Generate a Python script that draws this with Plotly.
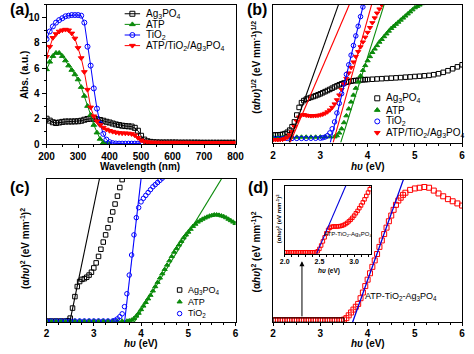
import plotly.graph_objects as go

W, H = 474, 354
FONT = "Liberation Sans, Arial, sans-serif"
BLACK, GREEN, BLUE, RED = "#000000", "#0a8a0a", "#0000ff", "#ff0000"


def px(x):
    return x / W


def py(y):
    return 1 - y / H


# ---------------- panel (a): absorbance ----------------
wl_a = [200, 210, 220, 230, 240, 250, 260, 270, 280, 290, 300, 310, 320, 330, 340, 350,
        360, 370, 380, 390, 400, 410, 420, 430, 440, 450, 460, 470, 480, 490, 500, 510,
        520, 530, 540, 550, 560, 570, 580, 590, 600, 610, 620, 630, 640, 650, 660, 670,
        680, 690, 700, 710, 720, 730, 740, 750, 760, 770, 780, 790, 800]
abs_ag = [2.0, 1.85, 1.72, 1.66, 1.7, 1.75, 1.78, 1.78, 1.78, 1.79, 1.8, 1.84, 1.92, 1.98, 2.0, 2.0,
          1.96, 1.9, 1.84, 1.76, 1.7, 1.62, 1.55, 1.5, 1.45, 1.42, 1.4, 1.38, 1.28, 1.05, 0.65, 0.35,
          0.22, 0.17, 0.14, 0.13, 0.12, 0.12, 0.12, 0.12, 0.12, 0.12, 0.11, 0.11, 0.11, 0.11, 0.11, 0.11,
          0.11, 0.1, 0.1, 0.1, 0.1, 0.1, 0.1, 0.1, 0.1, 0.1, 0.1, 0.1, 0.1]
abs_comp = [6.9, 7.7, 8.4, 8.7, 8.9, 9.0, 9.05, 9.0, 8.75, 8.35, 7.6, 6.8, 5.7, 4.3, 2.9, 2.2,
            1.8, 1.5, 1.3, 1.15, 1.05, 0.98, 0.92, 0.88, 0.86, 0.85, 0.84, 0.8, 0.7, 0.5, 0.3, 0.2,
            0.15, 0.13, 0.12, 0.12, 0.11, 0.11, 0.11, 0.11, 0.11, 0.11, 0.11, 0.11, 0.11, 0.11, 0.1, 0.1,
            0.1, 0.1, 0.1, 0.1, 0.1, 0.1, 0.1, 0.1, 0.1, 0.1, 0.1, 0.1, 0.1]
wl_tio2 = [200, 210, 220, 230, 240, 250, 260, 270, 280, 290, 300, 310, 320, 330, 340, 350,
           360, 370, 380, 390, 400, 410, 420, 430, 440, 450, 460, 470, 480, 490, 500]
abs_tio2 = [8.3, 8.9, 9.3, 9.6, 9.8, 9.95, 10.1, 10.15, 10.2, 10.2, 10.2, 10.15, 9.6, 7.7, 6.2, 4.4,
            2.8, 1.6, 0.8, 0.35, 0.15, 0.07, 0.04, 0.03, 0.03, 0.03, 0.03, 0.03, 0.03, 0.03, 0.03]
wl_atp = [200, 210, 220, 230, 240, 250, 260, 270, 280, 290, 300, 310, 320, 330, 340, 350,
          360, 370, 380, 390, 400]
abs_atp = [5.9, 6.5, 6.95, 7.2, 7.2, 6.95, 6.6, 6.2, 5.85, 5.5, 5.1, 4.5, 3.8, 3.0, 2.3, 1.5,
           0.9, 0.4, 0.1, 0.02, 0.0]

# ---------------- panel (b): (ahv)^1/2 ----------------
e_b_ag = [2.0, 2.05, 2.1, 2.15, 2.2, 2.25, 2.3, 2.35, 2.4, 2.45, 2.5, 2.55, 2.6, 2.65, 2.7, 2.75,
          2.8, 2.85, 2.9, 2.95, 3.0, 3.05, 3.1, 3.15, 3.2, 3.25, 3.3, 3.35, 3.4, 3.45, 3.5, 3.55,
          3.6, 3.65, 3.7, 3.75, 3.8, 3.85, 3.9, 3.95, 4.0, 4.1, 4.2, 4.3, 4.4, 4.5, 4.6, 4.7,
          4.8, 4.9, 5.0, 5.1, 5.2, 5.3, 5.4, 5.5, 5.6, 5.7, 5.8, 5.9, 6.0]
b_ag = [0.55, 0.55, 0.56, 0.57, 0.6, 0.65, 0.75, 0.9, 1.15, 1.5, 2.0, 2.55, 2.9, 3.05, 3.15, 3.22,
        3.28, 3.34, 3.4, 3.47, 3.54, 3.62, 3.7, 3.78, 3.86, 3.95, 4.04, 4.12, 4.2, 4.27, 4.33, 4.38,
        4.42, 4.46, 4.49, 4.51, 4.53, 4.55, 4.56, 4.57, 4.58, 4.6, 4.62, 4.64, 4.66, 4.68, 4.7, 4.72,
        4.75, 4.77, 4.8, 4.82, 4.85, 4.88, 4.93, 5.0, 5.1, 5.22, 5.36, 5.5, 5.65]
e_b_atp = [2.0, 2.1, 2.2, 2.3, 2.4, 2.5, 2.6, 2.7, 2.8, 2.9, 3.0, 3.1, 3.2, 3.3, 3.35, 3.4,
           3.45, 3.5, 3.55, 3.6, 3.65, 3.7, 3.75, 3.8, 3.85, 3.9, 3.95, 4.0, 4.05, 4.1, 4.15, 4.2,
           4.25, 4.3, 4.35, 4.4, 4.45, 4.5, 4.55, 4.6, 4.65, 4.7, 4.75, 4.8, 4.85, 4.9, 4.95, 5.0,
           5.05, 5.1, 5.15]
b_atp = [0.4, 0.4, 0.4, 0.4, 0.4, 0.4, 0.4, 0.4, 0.4, 0.4, 0.41, 0.41, 0.42, 0.42, 0.5, 0.7,
         1.0, 1.45, 1.95, 2.45, 2.95, 3.45, 3.95, 4.4, 4.85, 5.25, 5.6, 5.95, 6.25, 6.55, 6.8, 7.05,
         7.3, 7.5, 7.7, 7.9, 8.1, 8.3, 8.45, 8.6, 8.75, 8.9, 9.05, 9.2, 9.35, 9.5, 9.65, 9.8,
         9.9, 10.0, 10.1]
e_b_tio2 = [2.0, 2.1, 2.2, 2.3, 2.4, 2.5, 2.6, 2.7, 2.8, 2.9, 3.0, 3.05, 3.1, 3.15, 3.2, 3.25,
            3.3, 3.35, 3.4, 3.45, 3.5, 3.55, 3.6, 3.65, 3.7, 3.75, 3.8, 3.85, 3.9, 3.95]
b_tio2 = [0.3, 0.3, 0.3, 0.3, 0.3, 0.3, 0.3, 0.3, 0.31, 0.31, 0.32, 0.35, 0.4, 0.5, 0.7, 1.0,
          1.5, 2.15, 2.85, 3.55, 4.25, 4.95, 5.65, 6.35, 7.05, 7.75, 8.45, 9.15, 9.85, 10.5]
e_b_comp = [2.0, 2.05, 2.1, 2.15, 2.2, 2.25, 2.3, 2.35, 2.4, 2.45, 2.5, 2.55, 2.6, 2.65, 2.7, 2.75,
            2.8, 2.85, 2.9, 2.95, 3.0, 3.05, 3.1, 3.15, 3.2, 3.25, 3.3, 3.35, 3.4, 3.45, 3.5, 3.55,
            3.6, 3.65, 3.7, 3.75, 3.8, 3.85, 3.9, 3.95, 4.0, 4.05, 4.1, 4.15, 4.2, 4.25, 4.3, 4.35]
b_comp = [0.2, 0.2, 0.2, 0.21, 0.23, 0.28, 0.38, 0.55, 0.8, 1.15, 1.55, 1.85, 2.0, 2.02, 1.98, 1.95,
          1.94, 1.94, 1.95, 1.97, 2.0, 2.05, 2.12, 2.22, 2.36, 2.55, 2.8, 3.1, 3.45, 3.85, 4.25, 4.65,
          5.05, 5.45, 5.85, 6.25, 6.6, 6.95, 7.3, 7.65, 8.0, 8.35, 8.7, 9.05, 9.4, 9.7, 10.0, 10.3]
# linear extrapolations (x-intercept = band gap, slope)
b_fit_eg = [2.34, 2.36, 3.21, 3.27, 3.43]
b_fit_slope = [9.6, 8.0, 14.3, 12.3, 10.9]
b_fit_color = [BLACK, RED, BLUE, RED, GREEN]

# ---------------- panel (c): (ahv)^2 ----------------
e_c_ag = [2.0, 2.1, 2.2, 2.3, 2.4, 2.45, 2.5, 2.55, 2.6, 2.65, 2.7, 2.75, 2.8, 2.85, 2.9, 2.95,
          3.0, 3.05, 3.1, 3.15, 3.2, 3.25, 3.3, 3.35, 3.4, 3.45, 3.5, 3.55, 3.6, 3.65]
c_ag = [0.1, 0.1, 0.1, 0.1, 0.1, 0.12, 0.3, 1.0, 1.8, 2.5, 2.85, 3.0, 3.05, 3.15, 3.3, 3.5,
        3.8, 4.15, 4.6, 5.1, 5.6, 6.1, 6.6, 7.15, 7.7, 8.25, 8.8, 9.4, 9.95, 10.5]
e_c_atp = [2.0, 2.1, 2.2, 2.3, 2.4, 2.5, 2.6, 2.7, 2.8, 2.9, 3.0, 3.1, 3.2, 3.3, 3.4, 3.5,
           3.6, 3.7, 3.75, 3.8, 3.85, 3.9, 3.95, 4.0, 4.05, 4.1, 4.15, 4.2, 4.25, 4.3, 4.35, 4.4,
           4.45, 4.5, 4.55, 4.6, 4.65, 4.7, 4.75, 4.8, 4.85, 4.9, 4.95, 5.0, 5.05, 5.1, 5.15, 5.2,
           5.25, 5.3, 5.35, 5.4, 5.45, 5.5, 5.55, 5.6, 5.65, 5.7, 5.75, 5.8, 5.85, 5.9, 5.95, 6.0]
c_atp = [0.1, 0.1, 0.1, 0.1, 0.1, 0.1, 0.1, 0.1, 0.1, 0.1, 0.1, 0.1, 0.1, 0.1, 0.1, 0.1,
         0.1, 0.1, 0.12, 0.17, 0.28, 0.45, 0.65, 0.9, 1.15, 1.4, 1.65, 1.9, 2.2, 2.5, 2.8, 3.1,
         3.4, 3.7, 4.0, 4.3, 4.6, 4.9, 5.15, 5.4, 5.65, 5.9, 6.1, 6.3, 6.5, 6.7, 6.85, 7.0,
         7.1, 7.2, 7.28, 7.35, 7.42, 7.46, 7.5, 7.5, 7.48, 7.43, 7.38, 7.3, 7.2, 7.1, 7.0, 6.9]
e_c_tio2 = [2.0, 2.1, 2.2, 2.3, 2.4, 2.5, 2.6, 2.7, 2.8, 2.9, 3.0, 3.1, 3.2, 3.3, 3.4, 3.45,
            3.5, 3.55, 3.6, 3.65, 3.7, 3.75, 3.8, 3.85, 3.9, 3.95, 4.0, 4.05, 4.1, 4.15, 4.2, 4.25,
            4.3, 4.35, 4.4, 4.45, 4.5]
c_tio2 = [0.1, 0.1, 0.1, 0.1, 0.1, 0.1, 0.1, 0.1, 0.1, 0.1, 0.1, 0.1, 0.1, 0.1, 0.1, 0.15,
          0.25, 0.4, 0.6, 1.1, 2.0, 3.3, 4.7, 6.1, 7.3, 8.0, 8.4, 8.65, 8.85, 9.05, 9.25, 9.45,
          9.6, 9.75, 9.9, 10.05, 10.2]
c_fit_eg = [2.49, 3.65, 3.85]
c_fit_slope = [15.9, 28.6, 5.4]
c_fit_color = [BLACK, BLUE, GREEN]

# ---------------- panel (d): composite (ahv)^2 ----------------
e_d = [2.0, 2.05, 2.1, 2.15, 2.2, 2.25, 2.3, 2.35, 2.4, 2.45, 2.5, 2.55, 2.6, 2.65, 2.7, 2.75,
       2.8, 2.85, 2.9, 2.95, 3.0, 3.05, 3.1, 3.15, 3.2, 3.25, 3.3, 3.35, 3.4, 3.45, 3.5, 3.55,
       3.6, 3.65, 3.7, 3.75, 3.8, 3.85, 3.9, 3.95, 4.0, 4.05, 4.1, 4.15, 4.2, 4.25, 4.3, 4.35,
       4.4, 4.45, 4.5, 4.55, 4.6, 4.65, 4.7, 4.75, 4.8, 4.9, 5.0, 5.1, 5.2, 5.3, 5.4, 5.5,
       5.6, 5.7, 5.8, 5.9, 6.0]
d_comp = [0.15, 0.15, 0.15, 0.15, 0.15, 0.15, 0.15, 0.15, 0.15, 0.15, 0.15, 0.15, 0.15, 0.15, 0.15, 0.15,
          0.15, 0.15, 0.15, 0.15, 0.15, 0.15, 0.15, 0.15, 0.15, 0.15, 0.15, 0.15, 0.15, 0.16, 0.2, 0.3,
          0.5, 0.7, 0.9, 1.1, 1.3, 1.7, 2.1, 2.55, 3.0, 3.45, 3.9, 4.35, 4.8, 5.3, 5.75, 6.2,
          6.65, 7.1, 7.5, 7.9, 8.25, 8.55, 8.75, 8.95, 9.1, 9.3, 9.4, 9.45, 9.5, 9.45, 9.25, 9.05,
          8.85, 8.65, 8.5, 8.35, 8.2]
d_fit_eg = [3.68]
d_fit_slope = [9.3]

e_inset = [2.0, 2.025, 2.05, 2.075, 2.1, 2.125, 2.15, 2.175, 2.2, 2.225, 2.25, 2.275, 2.3, 2.325,
           2.35, 2.375, 2.4, 2.425, 2.45, 2.475, 2.5, 2.525, 2.55, 2.575, 2.6, 2.625, 2.65, 2.675,
           2.7, 2.725, 2.75, 2.775, 2.8, 2.825, 2.85, 2.875, 2.9, 2.925, 2.95, 2.975, 3.0, 3.025,
           3.05, 3.075, 3.1, 3.125, 3.15, 3.175, 3.2, 3.225, 3.25]
inset_comp = [0.2, 0.2, 0.2, 0.2, 0.2, 0.2, 0.2, 0.2, 0.2, 0.2, 0.2, 0.2, 0.2, 0.2,
              0.2, 0.2, 0.2, 0.2, 0.22, 0.35, 0.7, 1.2, 1.8, 2.4, 3.0, 3.5, 3.8, 3.95,
              4.0, 4.0, 4.0, 4.02, 4.06, 4.12, 4.22, 4.36, 4.54, 4.76, 5.0, 5.28, 5.6, 5.95,
              6.3, 6.7, 7.1, 7.55, 8.0, 8.5, 9.0, 9.5, 10.0]
inset_fit_eg = [2.46]
inset_fit_slope = [23.8]
inset_ticks = [2.0, 2.5, 3.0]
inset_ticktext = ["2.0", "2.5", "3.0"]

AG = "Ag<sub>3</sub>PO<sub>4</sub>"
TIO2 = "TiO<sub>2</sub>"
COMP = "ATP/TiO<sub>2</sub>/Ag<sub>3</sub>PO<sub>4</sub>"
COMP2 = "ATP-TiO<sub>2</sub>-Ag<sub>3</sub>PO<sub>4</sub>"
names_a = [AG, "ATP", TIO2, COMP]
names_c = [AG, "ATP", TIO2]
colors4 = [BLACK, GREEN, BLUE, RED]
symbols4 = ["square-open", "triangle-up", "circle-open", "triangle-down"]

YB, YC, YD, YI = 10.0, 10.0, 10.0, 10.0
fig = go.Figure()


def mk(sym, col, size=5):
    return dict(symbol=sym, color=col, size=size, line=dict(color=col, width=1))


# (a)
for xs, ys, i in [(wl_a, abs_ag, 0), (wl_atp, abs_atp, 1), (wl_tio2, abs_tio2, 2), (wl_a, abs_comp, 3)]:
    fig.add_trace(go.Scatter(x=xs, y=ys, mode="lines+markers", line=dict(color=colors4[i], width=1),
                             marker=mk(symbols4[i], colors4[i], 5), xaxis="x", yaxis="y", showlegend=False))
# (b)
for xs, ys, i in [(e_b_ag, b_ag, 0), (e_b_atp, b_atp, 1), (e_b_tio2, b_tio2, 2), (e_b_comp, b_comp, 3)]:
    fig.add_trace(go.Scatter(x=xs, y=ys, mode="markers", marker=mk(symbols4[i], colors4[i], 4.5),
                             xaxis="x2", yaxis="y2", showlegend=False, cliponaxis=True))
for eg, k, c in zip(b_fit_eg, b_fit_slope, b_fit_color):
    fig.add_trace(go.Scatter(x=[eg, eg + YB / k], y=[0, YB], mode="lines", line=dict(color=c, width=1.1),
                             xaxis="x2", yaxis="y2", showlegend=False))
# (c)
for xs, ys, i in [(e_c_ag, c_ag, 0), (e_c_atp, c_atp, 1), (e_c_tio2, c_tio2, 2)]:
    fig.add_trace(go.Scatter(x=xs, y=ys, mode="markers", marker=mk(symbols4[i], colors4[i], 4.5),
                             xaxis="x3", yaxis="y3", showlegend=False))
for eg, k, c in zip(c_fit_eg, c_fit_slope, c_fit_color):
    fig.add_trace(go.Scatter(x=[eg, eg + YC / k], y=[0, YC], mode="lines", line=dict(color=c, width=1.1),
                             xaxis="x3", yaxis="y3", showlegend=False))
# (d)
fig.add_trace(go.Scatter(x=e_d, y=d_comp, mode="markers", marker=mk("square-open", RED, 5),
                         xaxis="x4", yaxis="y4", showlegend=False))
for eg, k in zip(d_fit_eg, d_fit_slope):
    fig.add_trace(go.Scatter(x=[eg, eg + YD / k], y=[0, YD], mode="lines", line=dict(color="#0000dd", width=1.3),
                             xaxis="x4", yaxis="y4", showlegend=False))
fig.add_trace(go.Scatter(x=e_inset, y=inset_comp, mode="markers", marker=mk("square-open", RED, 3.5),
                         xaxis="x5", yaxis="y5", showlegend=False))
for eg, k in zip(inset_fit_eg, inset_fit_slope):
    fig.add_trace(go.Scatter(x=[eg, eg + YI / k], y=[0, YI], mode="lines", line=dict(color="#0000dd", width=1.1),
                             xaxis="x5", yaxis="y5", showlegend=False))

# legend samples drawn on a pixel overlay axis
leg_a_rows = [14, 24.8, 35.6, 46.4]
for i, r in enumerate(leg_a_rows):
    fig.add_trace(go.Scatter(x=[121, 129, 137], y=[r, r, r], mode="lines", line=dict(color=colors4[i], width=1),
                             xaxis="x6", yaxis="y6", showlegend=False))
    fig.add_trace(go.Scatter(x=[129], y=[r], mode="markers", marker=mk(symbols4[i], colors4[i], 5),
                             xaxis="x6", yaxis="y6", showlegend=False))
leg_b_rows = [100, 112, 123.5, 135]
for i, r in enumerate(leg_b_rows):
    fig.add_trace(go.Scatter(x=[383], y=[r], mode="markers", marker=mk(symbols4[i], colors4[i], 5),
                             xaxis="x6", yaxis="y6", showlegend=False))
leg_c_rows = [295, 307, 319]
for i, r in enumerate(leg_c_rows):
    fig.add_trace(go.Scatter(x=[178], y=[r], mode="markers", marker=mk(symbols4[i], colors4[i], 4.5),
                             xaxis="x6", yaxis="y6", showlegend=False))

tickfont = dict(family=FONT, size=10, color="black", weight="bold")


def xax(dom, rng, dtick, minor, anchor, tf=tickfont, **kw):
    d = dict(domain=[px(dom[0]), px(dom[1])], range=rng, dtick=dtick, showline=True, mirror=True,
             linecolor="black", linewidth=1, ticks="outside", ticklen=3, tickwidth=1, tickcolor="black",
             tickfont=tf, showgrid=False, zeroline=False, anchor=anchor,
             minor=dict(ticks="outside", ticklen=2, dtick=minor, tickcolor="black", showgrid=False))
    d.update(kw)
    return d


def yax(dom, rng, anchor, labels=False, dtick=None, minor=None):
    d = dict(domain=[py(dom[1]), py(dom[0])], range=rng, showline=True, mirror=True, linecolor="black",
             linewidth=1, showgrid=False, zeroline=False, anchor=anchor)
    if labels:
        d.update(ticks="outside", ticklen=4, tickcolor="black", dtick=dtick, tickfont=tickfont,
                 minor=dict(ticks="outside", ticklen=2, dtick=minor, tickcolor="black", showgrid=False))
    else:
        d.update(ticks="", showticklabels=False)
    return d


small_tf = dict(family=FONT, size=7, color="black", weight="bold")
fig.update_layout(
    width=W, height=H, margin=dict(l=0, r=0, t=0, b=0),
    paper_bgcolor="white", plot_bgcolor="rgba(0,0,0,0)", showlegend=False,
    xaxis=xax((40, 236), [200, 800], 100, 50, "y"),
    yaxis=yax((5, 146.5), [0, 11], "x", labels=True, dtick=2, minor=1),
    xaxis2=xax((275, 471), [2, 6], 1, 0.25, "y2"),
    yaxis2=yax((5, 145), [0, YB], "x2"),
    xaxis3=xax((40, 236), [2, 6], 1, 0.25, "y3", ticklabelstandoff=-1),
    yaxis3=yax((182, 328), [0, YC], "x3"),
    xaxis4=xax((275, 471), [2, 6], 1, 0.25, "y4", ticklabelstandoff=-1),
    yaxis4=yax((183, 328), [0, YD], "x4"),
    xaxis5=xax((287, 377), [2.0, 3.25], None, 0.1, "y5", tf=small_tf, tickvals=inset_ticks,
               ticktext=inset_ticktext, ticklen=2, ticklabelstandoff=-1),
    yaxis5=yax((189, 258), [0, YI], "x5"),
    xaxis6=dict(domain=[0, 1], range=[0, W], visible=False, fixedrange=True, anchor="y6"),
    yaxis6=dict(domain=[0, 1], range=[H, 0], visible=False, fixedrange=True, anchor="x6"),
)

ann = []


def text(x, y, s, size=10, bold=True, angle=0, xanchor="center"):
    ann.append(dict(x=px(x), y=py(y), xref="paper", yref="paper", text=s, showarrow=False,
                    textangle=angle, xanchor=xanchor, yanchor="middle",
                    font=dict(family=FONT, size=size, color="black", weight="bold" if bold else "normal")))


HV = "<i>hυ</i> (eV)"
text(0, 10, "(a)", 16, xanchor="left")
text(246, 10, "(b)", 16, xanchor="left")
text(0, 191, "(c)", 16, xanchor="left")
text(247, 191, "(d)", 16, xanchor="left")
text(137, 169, "Wavelength (nm)")
text(373, 169, HV)
text(138, 349, HV)
text(373, 349, HV)
text(17, 76, "Abs. (a.u.)", angle=-90)
text(257, 68, "(α<i>hυ</i>)<sup>1/2</sup> (eV mm<sup>-1</sup>)<sup>1/2</sup>", 10, angle=-90)
text(17, 253, "(α<i>hυ</i>)<sup>2</sup> (eV mm<sup>-1</sup>)<sup>2</sup>", 10, angle=-90)
text(257, 256, "(α<i>hυ</i>)<sup>2</sup> (eV mm<sup>-1</sup>)<sup>2</sup>", 10, angle=-90)
text(281, 222, "(α<i>hυ</i>)<sup>2</sup> (eV mm<sup>-1</sup>)<sup>2</sup>", 6, angle=-90)
text(333, 275.5, HV, 6.5)
text(353, 239, COMP2, 6, bold=False)
text(408, 302, COMP2, 9, bold=False)
for n, r in zip(names_a, leg_a_rows):
    text(141, r, n, 10, bold=False, xanchor="left")
for n, r in zip(names_a, leg_b_rows):
    text(390, r, n, 10, bold=False, xanchor="left")
for n, r in zip(names_c, leg_c_rows):
    text(185, r, n, 9, bold=False, xanchor="left")

ann.append(dict(x=2.61, y=4.3, ax=2.61, ay=0.32, xref="x4", yref="y4", axref="x4", ayref="y4",
                text="", showarrow=True, arrowhead=2, arrowsize=1, arrowwidth=1, arrowcolor="black"))
fig.update_layout(annotations=ann)
fig.add_shape(type="rect", xref="x4", yref="y4", x0=2.0, x1=3.5, y0=0.02, y1=0.32,
              line=dict(color="black", width=1))

fig.write_html("out.html", config={"displayModeBar": False, "staticPlot": True},
               post_script="document.body.style.margin='0';document.body.style.overflow='hidden';")
